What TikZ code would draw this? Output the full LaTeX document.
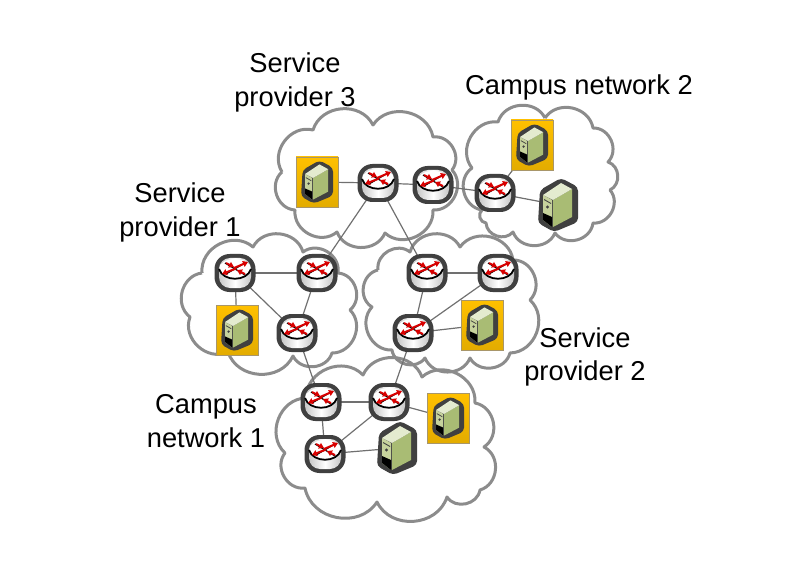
\documentclass[tikz,border=0pt]{standalone}
\usepackage{fontspec}
\setmainfont{Liberation Sans}
\usetikzlibrary{arrows.meta}
\usetikzlibrary{backgrounds}
\definecolor{casing}{HTML}{404040}
\definecolor{cloudgrey}{HTML}{8C8C8C}
\definecolor{linkgrey}{HTML}{707070}
\definecolor{boxtop}{HTML}{FFC000}
\definecolor{boxbottom}{HTML}{E3AC00}
\definecolor{boxedge}{HTML}{A8966A}
\definecolor{sidegreen}{HTML}{A9BC74}
\definecolor{topgreen}{HTML}{E4EBCF}
\definecolor{frontgreen}{HTML}{C6D29C}
\tikzset{
    x=1pt, y=-1pt,
    net_label/.style = {align=center, inner sep=0pt, font=\fontsize{27.3}{33.5}\selectfont},
    cloud_line/.style = {draw=cloudgrey, line width=3pt, line join=round, every to/.append style={bend left=68, looseness=1.15}},
    link/.style = {draw=linkgrey, line width=1.2pt},
    router_node/.style = {rectangle, inner sep=0pt, minimum width=41, minimum height=38, rounded corners=15, fill=casing,
        path picture={\pic at (path picture bounding box.center) {router_icon};}},
    server_node/.style = {rectangle, inner sep=0pt, minimum width=40, minimum height=54,
        path picture={\pic at (path picture bounding box.center) {server_icon};}},
    hosted_node/.style = {rectangle, inner sep=0pt, minimum width=42, minimum height=50, draw=boxedge, line width=.8pt, top color=boxtop, bottom color=boxbottom,
        path picture={\pic[scale=.8] at (path picture bounding box.center) {server_icon};}},
    red_arrow/.style = {draw=red!85!black, line width=2pt, -{Triangle[length=5pt,width=6pt]}},
    router_icon/.pic = {
        \shade[left color=black!22, right color=black!22, middle color=white, rounded corners=11] (-16,-15) rectangle (16,15);
        \fill[white] (0,-4) ellipse [x radius=16, y radius=10];
        \draw[black, line width=1.8pt] (-16,-4) .. controls (-12,9) and (12,9) .. (16,-4);
        \draw[black, line width=1.2pt] (-10,-10) -- (10,2);
        \draw[black, line width=1.2pt] (-9,1) -- (10,-10);
        \draw[red_arrow] (-1,-5) -- (13,-11);
        \draw[red_arrow] (1,-4.5) -- (-13,1);
        \draw[red_arrow] (-9,-10) -- (-1,-6);
        \draw[red_arrow] (10,1) -- (2,-3);
    },
    server_icon/.pic = {
        \fill[casing, rounded corners=4] (3,-27) -- (20,-18) -- (20,17) -- (-4,27) -- (-20,18) -- (-18,-15) -- cycle;
        \fill[frontgreen] (-15,-10) -- (-6,-5) -- (-6,22) -- (-15,15) -- cycle;
        \fill[black] (-15,8) -- (-6,12) -- (-6,22) -- (-15,15) -- cycle;
        \fill[sidegreen] (-5,-5) -- (14,-16) -- (14,12) -- (-5,22) -- cycle;
        \fill[topgreen] (-15,-10) -- (3,-22) -- (14,-16) -- (-5,-5) -- cycle;
        \fill[casing] (-10.5,2) circle (1.6);
        \fill[casing] (-14,-6) -- (-7,-2) -- (-7,-1) -- (-14,-5) -- cycle;
    }
}
\begin{document}
\begin{tikzpicture}
    \useasboundingbox (0,0) rectangle (806,588);

    % service provider 3
    \node [hosted_node] (sp3_host) at (317,182) {};
    \node [router_node] (sp3_a) at (378,183) {};
    \node [router_node] (sp3_b) at (433,185) {};
    % campus network 2
    \node [router_node] (cn2_a) at (495,193) {};
    \node [hosted_node] (cn2_host) at (532,145) {};
    \node [server_node] (cn2_server) at (558,205) {};
    % service provider 1
    \node [router_node] (sp1_a) at (235,273) {};
    \node [router_node] (sp1_b) at (317,273) {};
    \node [router_node] (sp1_c) at (297,333) {};
    \node [hosted_node] (sp1_host) at (237,330) {};
    % service provider 2
    \node [router_node] (sp2_a) at (427,273) {};
    \node [router_node] (sp2_b) at (498,273) {};
    \node [router_node] (sp2_c) at (413,333) {};
    \node [hosted_node] (sp2_host) at (482,325) {};
    % campus network 1
    \node [router_node] (cn1_a) at (321,402) {};
    \node [router_node] (cn1_b) at (389,402) {};
    \node [router_node] (cn1_c) at (325,454) {};
    \node [hosted_node] (cn1_host) at (448,418) {};
    \node [server_node] (cn1_server) at (397,448) {};

    \node [net_label] (sp3_label) at (295,82.5) {Service\\provider 3};
    \node [net_label] (cn2_label) at (579,87) {Campus network 2};
    \node [net_label] (sp1_label) at (180,212.5) {Service\\provider 1};
    \node [net_label] (sp2_label) at (585,357) {Service\\provider 2};
    \node [net_label] (cn1_label) at (206,421) {Campus\\network 1};

    \begin{scope}[on background layer]
        \draw [cloud_line] (282,172) to (313,130) to (373,125) to (433,137) to (452,170) to (433,210)
            to (385,233) to (337,232) to (295,210) to (282,172);
        \draw [cloud_line] (545,118) to (593,128) to (608,162) to (610,190) to (593,223) to (555,233) to (513,232)
            to (486,223) to (482,210) to (472,168) to (498,122) to (545,118);
        \draw [cloud_line] (202,273) to (253,247) to (303,252) to (338,273) to (350,310) to (332,353) to (293,356)
            to (228,352) to (190,317) to (202,273);
        \draw [cloud_line] (378,270) to (410,252) to (460,247) to (513,260) to (530,300) to (510,353) to (470,358)
            to (425,358) to (392,350) to (372,307) to (378,270);
        \draw [cloud_line] (306,398) to (363,375) to (422,377) to (475,403) to (484,447) to (480,490)
            to (447,497) to (377,502) to (305,488) to (285,453) to (306,398);

        \draw [link] (sp3_host.center) -- (sp3_a.center);
        \draw [link] (sp3_a.center) -- (sp3_b.center);
        \draw [link] (sp3_b.center) -- (cn2_a.center);
        \draw [link] (sp3_a.center) -- (sp1_b.center);
        \draw [link] (sp3_a.center) -- (sp2_a.center);
        \draw [link] (cn2_a.center) -- (cn2_host.center);
        \draw [link] (cn2_a.center) -- (cn2_server.center);
        \draw [link] (sp1_a.center) -- (sp1_b.center);
        \draw [link] (sp1_a.center) -- (sp1_host.center);
        \draw [link] (sp1_a.center) -- (sp1_c.center);
        \draw [link] (sp1_b.center) -- (sp1_c.center);
        \draw [link] (sp1_c.center) -- (cn1_a.center);
        \draw [link] (sp2_a.center) -- (sp2_b.center);
        \draw [link] (sp2_a.center) -- (sp2_c.center);
        \draw [link] (sp2_b.center) -- (sp2_c.center);
        \draw [link] (sp2_c.center) -- (sp2_host.center);
        \draw [link] (sp2_c.center) -- (cn1_b.center);
        \draw [link] (cn1_a.center) -- (cn1_b.center);
        \draw [link] (cn1_a.center) -- (cn1_c.center);
        \draw [link] (cn1_b.center) -- (cn1_c.center);
        \draw [link] (cn1_b.center) -- (cn1_host.center);
        \draw [link] (cn1_c.center) -- (cn1_server.center);
    \end{scope}
\end{tikzpicture}
\end{document}
